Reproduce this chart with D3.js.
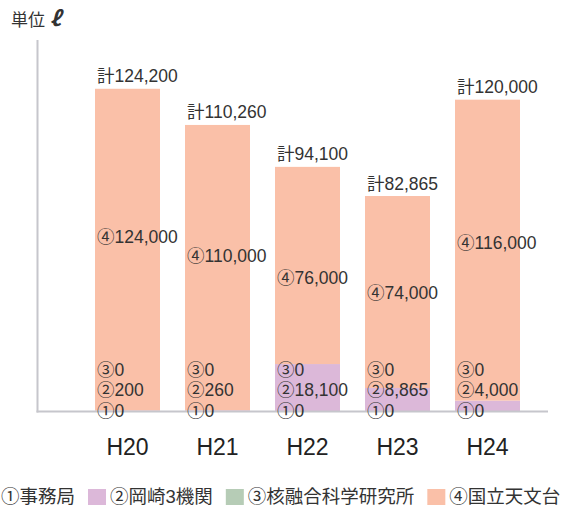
<!DOCTYPE html>
<html><head><meta charset="utf-8">
<script src="https://cdn.jsdelivr.net/npm/d3@7"></script>
<style>
html,body{margin:0;padding:0;background:#fff;}
svg{display:block;}
text{font-family:"Liberation Sans","Noto Sans CJK JP",sans-serif;fill:#333;}
</style></head>
<body><svg id="c" width="561" height="506"></svg>
<script>
const years = ["H20","H21","H22","H23","H24"];
const jimukyoku = [0,0,0,0,0];          // ①事務局
const okazaki = [200,260,18100,8865,4000]; // ②岡崎3機関
const kakuyugo = [0,0,0,0,0];           // ③核融合科学研究所
const tenmondai = [124000,110000,76000,74000,116000]; // ④国立天文台
const totals = [124200,110260,94100,82865,120000];
const seriesNames = ["①事務局","②岡崎3機関","③核融合科学研究所","④国立天文台"];
const seriesKeys = ["s1","s2","s3","s4"];
const colors = ["#ffffff","#dcb8d9","#b6ccb6","#fac0a8"];
const unitText = "単位";
const unitSymbol = "ℓ";

const rows = years.map((y,i)=>({year:y,s1:jimukyoku[i],s2:okazaki[i],s3:kakuyugo[i],s4:tenmondai[i],total:totals[i]}));
const svg = d3.select("#c");
const fmt = d3.format(",");

const x = d3.scaleBand().domain(years).range([82.5,532.5]).paddingInner(25/90).paddingOuter(12.5/90);
const y = d3.scaleLinear().domain([0,143000]).range([411,40]);

const stack = d3.stack().keys(seriesKeys)(rows);
svg.append("g").selectAll("g").data(stack).join("g")
  .attr("fill",(d,i)=>colors[i])
  .selectAll("rect").data(d=>d).join("rect")
  .attr("x",d=>x(d.data.year)).attr("width",x.bandwidth())
  .attr("y",d=>y(d[1])).attr("height",d=>y(d[0])-y(d[1]));

// axes
const axisCol = "#c6c6cc";
svg.append("line").attr("x1",37.5).attr("x2",37.5).attr("y1",y.range()[1]).attr("y2",y(0)+1.5)
  .attr("stroke",axisCol).attr("stroke-width",2);
svg.append("line").attr("x1",36.5).attr("x2",548).attr("y1",y(0)+0.5).attr("y2",y(0)+0.5)
  .attr("stroke",axisCol).attr("stroke-width",2);

// labels
const lab = svg.append("g").style("font-size","17.5px");
rows.forEach(r=>{
  const x0 = x(r.year)+2;
  lab.append("text").attr("x",x0).attr("y",y(r.total)-6.5).text("計"+fmt(r.total));
  const top = y(r.total);
  lab.append("text").attr("x",x0).attr("y",top+0.48*(y(0)-top)).text("④"+fmt(r.s4));
  lab.append("text").attr("x",x0).attr("y",y(0)-35).text("③"+fmt(r.s3));
  lab.append("text").attr("x",x0).attr("y",y(0)-15).text("②"+fmt(r.s2));
  lab.append("text").attr("x",x0).attr("y",y(0)+5.5).text("①"+fmt(r.s1));
});

// x labels
svg.append("g").selectAll("text").data(years).join("text")
  .attr("x",d=>x(d)+x.bandwidth()/2).attr("y",455).attr("text-anchor","middle")
  .style("font-size","23px").style("fill","#222").text(d=>d);

// unit
const ut = svg.append("text").attr("x",11).attr("y",26).style("font-size","17px");
ut.append("tspan").text(unitText+" ");
ut.append("tspan").style("font-family","'Noto Sans CJK JP','DejaVu Sans',sans-serif").style("font-style","italic")
  .style("font-weight","bold").style("font-size","21px").text(unitSymbol);

// legend
const lg = svg.append("g").style("font-size","18.5px");
let cx = 1;
seriesNames.forEach((n,i)=>{
  if(i>0){
    lg.append("rect").attr("x",cx).attr("y",489).attr("width",18).attr("height",16).attr("fill",colors[i]);
    cx += 22;
  }
  const t = lg.append("text").attr("x",cx).attr("y",502.5).text(n);
  cx += t.node().getComputedTextLength() + 13;
});
</script></body></html>
